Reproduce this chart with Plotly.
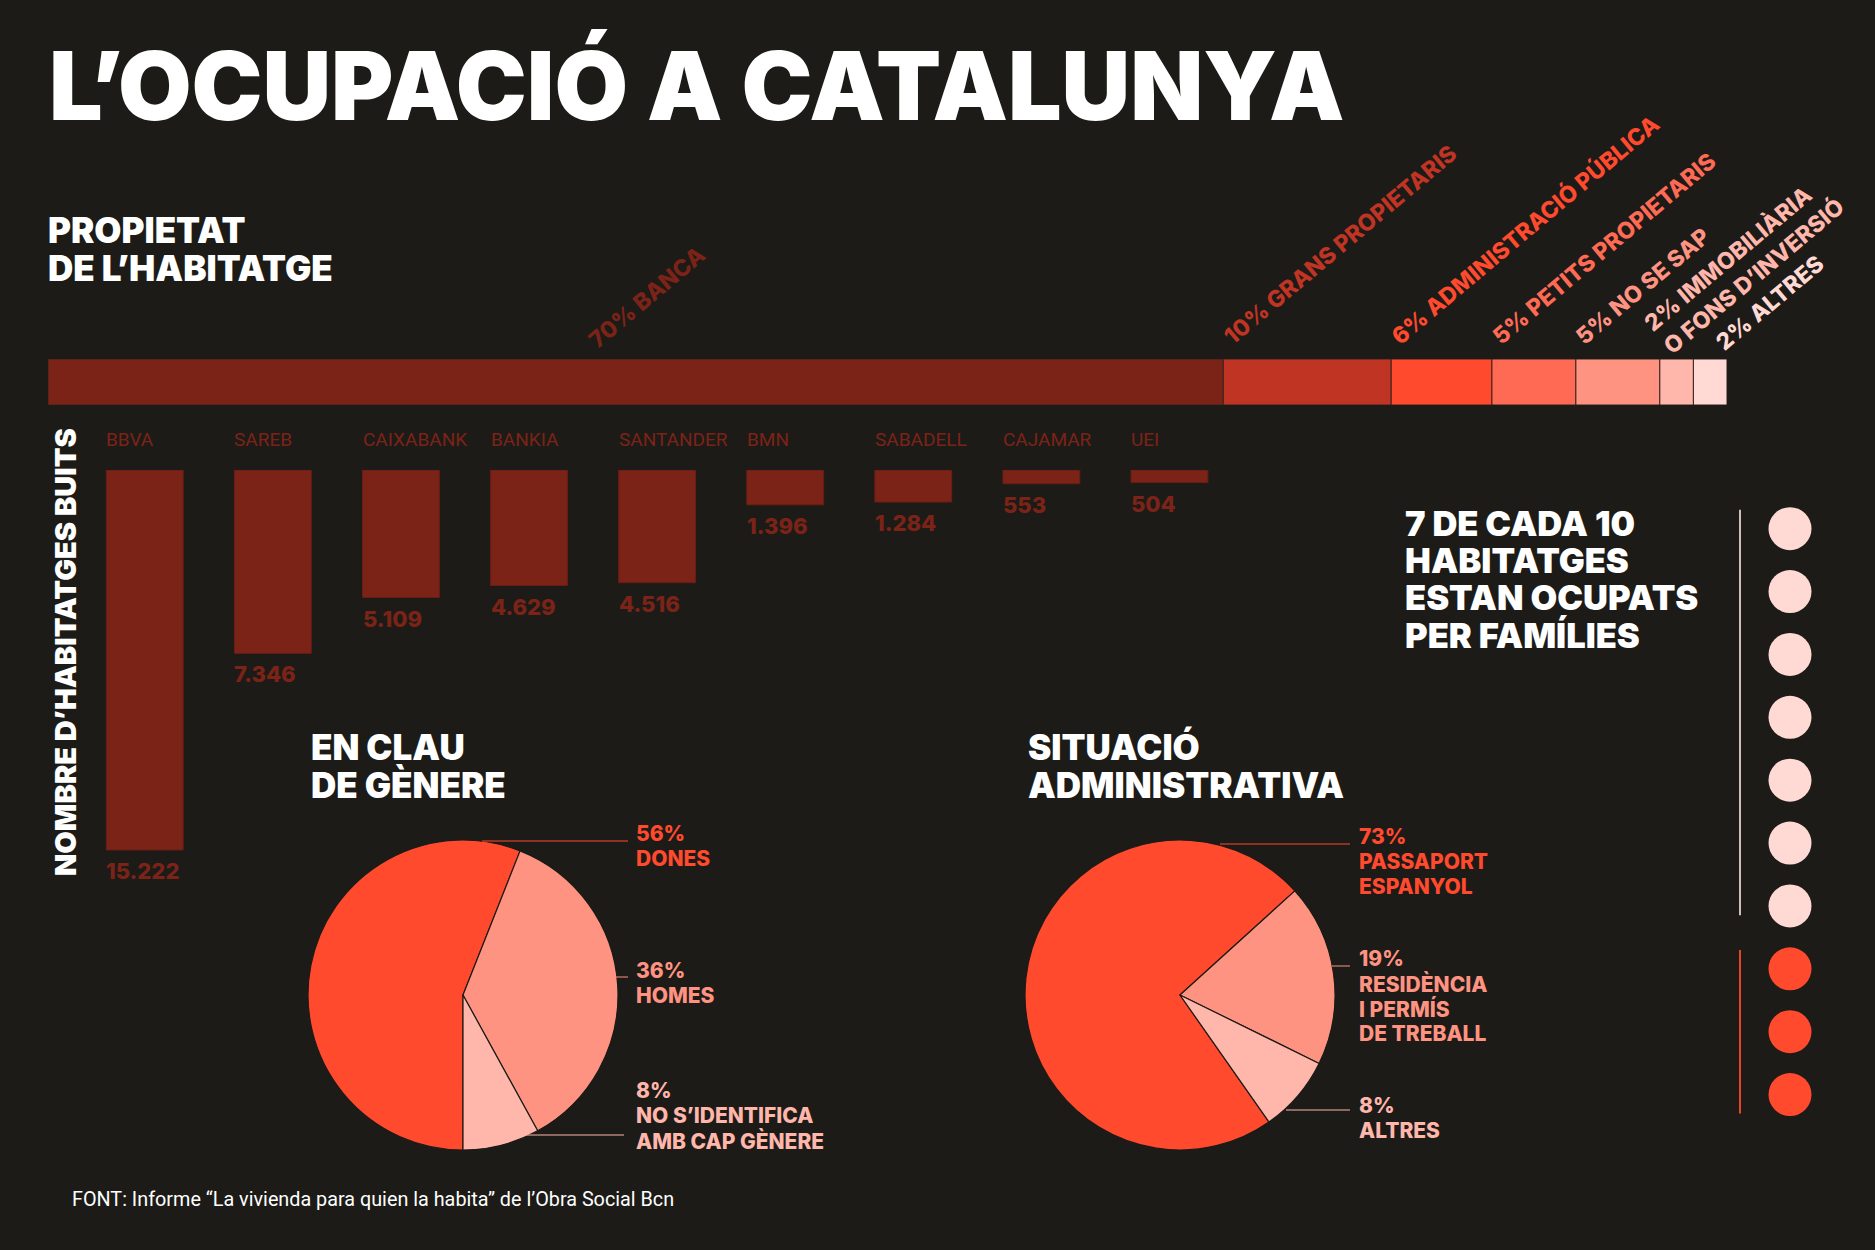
import numpy as np
import plotly.graph_objects as go

W, H = 1875, 1250
BG = "#1c1b17"
WHITE = "#ffffff"
HEAD = "Inter"
BODY = "Roboto"

# propietat de l'habitatge (%)
owner_labels = ["70% BANCA", "10% GRANS PROPIETARIS", "6% ADMINISTRACIÓ PÚBLICA",
                "5% PETITS PROPIETARIS", "5% NO SE SAP",
                "2% IMMOBILIÀRIA<br>O FONS D’INVERSIÓ", "2% ALTRES"]
owner_pct = [70, 10, 6, 5, 5, 2, 2]
owner_colors = ["#7c2318", "#bf3423", "#ff4a2e", "#ff6a55", "#ff9382", "#ffb6ab", "#ffdad4"]

# nombre d'habitatges buits per entitat
banks = ["BBVA", "SAREB", "CAIXABANK", "BANKIA", "SANTANDER", "BMN", "SABADELL", "CAJAMAR", "UEI"]
empty_homes = [15222, 7346, 5109, 4629, 4516, 1396, 1284, 553, 504]

# en clau de gènere
gender_labels = ["DONES", "HOMES", "NO S’IDENTIFICA<br>AMB CAP GÈNERE"]
gender_pct = [56, 36, 8]
gender_colors = ["#ff4a2e", "#ff9382", "#ffb6ab"]

# situació administrativa
admin_labels = ["PASSAPORT<br>ESPANYOL", "RESIDÈNCIA<br>I PERMÍS<br>DE TREBALL", "ALTRES"]
admin_pct = [73, 19, 8]
admin_colors = ["#ff4a2e", "#ff9382", "#ffb6ab"]

# 7 de cada 10
families = 7
total_homes = 10


def px(x):
    return x / W


def py(y):
    return 1 - y / H


fig = go.Figure()

# barra apilada de propietat
starts = np.cumsum([0] + owner_pct[:-1])
fig.add_trace(go.Bar(
    x=owner_pct, base=starts, y=[0] * len(owner_pct), orientation="h", width=1,
    marker=dict(color=owner_colors, line=dict(color="#3a2520", width=1)),
    xaxis="x", yaxis="y", hoverinfo="skip"))

# barres de bancs
bank_idx = list(range(len(banks)))
fig.add_trace(go.Bar(
    x=bank_idx, y=empty_homes, width=0.6,
    marker=dict(color="#7c2318", line=dict(color="#6a1d14", width=1)),
    xaxis="x2", yaxis="y2", hoverinfo="skip"))

# pastissos
fig.add_trace(go.Pie(
    values=gender_pct, labels=gender_labels, sort=False, direction="clockwise", rotation=180,
    marker=dict(colors=gender_colors, line=dict(color=BG, width=1.2)),
    textinfo="none", hoverinfo="skip",
    domain=dict(x=[px(308), px(618)], y=[py(1150), py(840)])))
fig.add_trace(go.Pie(
    values=admin_pct, labels=admin_labels, sort=False, direction="clockwise", rotation=145,
    marker=dict(colors=admin_colors, line=dict(color=BG, width=1.2)),
    textinfo="none", hoverinfo="skip",
    domain=dict(x=[px(1025), px(1335)], y=[py(1150), py(840)])))

# punts 7 de cada 10
dot_colors = ["#ffdad4" if i < families else "#ff4a2e" for i in range(total_homes)]
fig.add_trace(go.Scatter(
    x=[0, 0], y=[-0.3, families - 1 + 0.15], mode="lines",
    line=dict(color="#d2bdb8", width=2), xaxis="x3", yaxis="y3",
    hoverinfo="skip", cliponaxis=False))
fig.add_trace(go.Scatter(
    x=[0, 0], y=[families - 0.3, total_homes - 1 + 0.3], mode="lines",
    line=dict(color="#e8442b", width=2), xaxis="x3", yaxis="y3",
    hoverinfo="skip", cliponaxis=False))
fig.add_trace(go.Scatter(
    x=[1] * total_homes, y=list(range(total_homes)), mode="markers",
    marker=dict(size=43, color=dot_colors, line=dict(width=0)),
    xaxis="x3", yaxis="y3", hoverinfo="skip", cliponaxis=False))

ann = []

# titols
def head(text, x, y, size, color=WHITE):
    ann.append(dict(text=text, x=px(x), y=py(y), xref="paper", yref="paper",
                    xanchor="left", yanchor="middle", showarrow=False,
                    font=dict(family=HEAD, size=size, color=color, weight=900)))


head("L’OCUPACIÓ A CATALUNYA", 47, 85, 95)
head("PROPIETAT", 46, 230, 35)
head("DE L’HABITATGE", 46, 268, 35)
head("EN CLAU", 309, 747, 35)
head("DE GÈNERE", 309, 785, 35)
head("SITUACIÓ", 1026, 747, 35)
head("ADMINISTRATIVA", 1026, 785, 35)
for k, line in enumerate(["7 DE CADA 10", "HABITATGES", "ESTAN OCUPATS", "PER FAMÍLIES"]):
    head(line, 1403, 523 + k * 37.5, 34.5)

ann.append(dict(text="NOMBRE D’HABITATGES BUITS", x=px(66), y=py(652), xref="paper", yref="paper",
                textangle=-90, showarrow=False, xanchor="center", yanchor="middle",
                font=dict(family=HEAD, size=29, color=WHITE, weight=900)))

# etiquetes de la barra apilada (desplaçaments fins)
label_nudge = {0: (12, -4), 5: (-16, -10), 6: (22, -6)}
for i, (lab, v) in enumerate(zip(owner_labels, owner_pct)):
    big = i == 0
    dx, dy = label_nudge.get(i, (0, 0))
    ann.append(dict(text=lab, x=starts[i] + v / 2 if big else starts[i], y=0.5,
                    xref="x", yref="y", textangle=-40, showarrow=False,
                    xanchor="center" if big else "left", yanchor="bottom", align="left",
                    yshift=6 + dy, xshift=(0 if big else -8) + dx,
                    font=dict(family=HEAD, size=23, color=owner_colors[i], weight=800)))

# noms i valors dels bancs
for i, (b, v) in enumerate(zip(banks, empty_homes)):
    ann.append(dict(text=b, x=i - 0.3, y=0, xref="x2", yref="y2", showarrow=False,
                    xanchor="left", yanchor="middle", yshift=31, xshift=-2,
                    font=dict(family=BODY, size=19, color="#7c2318")))
    ann.append(dict(text=f"{v:,}".replace(",", "."), x=i - 0.3, y=v, xref="x2", yref="y2",
                    showarrow=False, xanchor="left", yanchor="top", yshift=-6, xshift=-2,
                    font=dict(family=HEAD, size=22, color="#7c2318", weight=800)))

# etiquetes dels pastissos
shapes = []
pie_notes = [
    (gender_pct, gender_labels, gender_colors, 634, [819, 956, 1076],
     [(482, 628, 841), (574, 628, 977), (511, 624, 1135)]),
    (admin_pct, admin_labels, admin_colors, 1357, [822, 944, 1091],
     [(1220, 1350, 844), (1332, 1350, 966), (1286, 1350, 1110)]),
]
line_pitch = 25
for vals, labs, cols, tx, tys, leaders in pie_notes:
    for v, lab, col, ty, (x0, x1, ly) in zip(vals, labs, cols, tys, leaders):
        for k, line in enumerate([f"{v}%"] + lab.split("<br>")):
            ann.append(dict(text=line, x=px(tx), y=py(ty + k * line_pitch),
                            xref="paper", yref="paper", showarrow=False,
                            xanchor="left", yanchor="top",
                            font=dict(family=HEAD, size=21, color=col, weight=800)))
        shapes.append(dict(type="line", xref="paper", yref="paper",
                           x0=px(x0), x1=px(x1), y0=py(ly), y1=py(ly),
                           line=dict(color=col, width=1)))

ann.append(dict(text="FONT: Informe “La vivienda para quien la habita” de l’Obra Social Bcn",
                x=px(70), y=py(1199), xref="paper", yref="paper", showarrow=False,
                xanchor="left", yanchor="middle",
                font=dict(family=BODY, size=19.8, color=WHITE)))

hidden = dict(visible=False, fixedrange=True)
fig.update_layout(
    width=W, height=H, margin=dict(l=0, r=0, t=0, b=0),
    paper_bgcolor=BG, plot_bgcolor=BG, showlegend=False,
    xaxis=dict(domain=[px(48), px(1727)], range=[0, 100], **hidden),
    yaxis=dict(domain=[py(405), py(359)], range=[-0.5, 0.5], **hidden),
    xaxis2=dict(domain=[px(80.7), px(1233.5)], range=[-0.5, 8.5], **hidden),
    yaxis2=dict(domain=[py(869.4), py(470)], range=[16000, 0], **hidden),
    xaxis3=dict(domain=[px(1715), px(1815)], range=[-0.5, 1.5], **hidden),
    yaxis3=dict(domain=[py(1126), py(497.2)], range=[9.5, -0.5], **hidden),
    annotations=ann, shapes=shapes,
)

fig.write_html("out.html", config={"displayModeBar": False},
               post_script="document.body.style.margin='0';document.body.style.background='#1c1b17';")
